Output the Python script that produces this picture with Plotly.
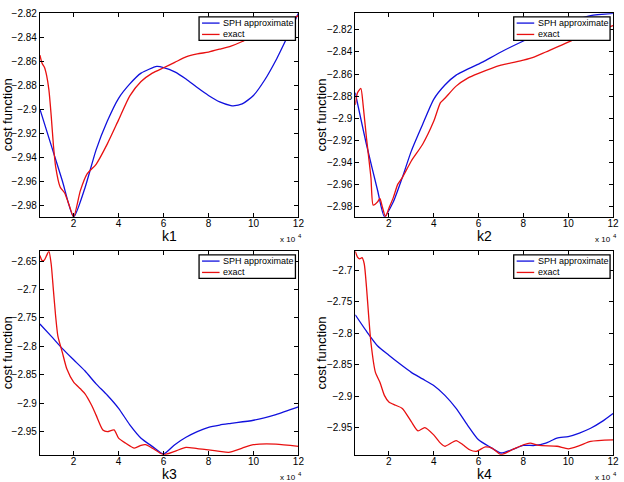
import plotly.graph_objects as go

# ---------------- data (x in units of 1e4) ----------------
k1_sph_x = [0.5, 1, 1.5, 2, 2.5, 3, 3.5, 4, 4.5, 5, 5.7, 6, 6.5, 7, 7.5, 8, 8.5, 9, 9.1, 9.5, 10, 10.5, 11, 11.5, 12]
k1_sph_y = [-2.900, -2.930, -2.960, -2.990, -2.966, -2.934, -2.910, -2.891, -2.879, -2.870, -2.8644, -2.8653,
            -2.8689, -2.8749, -2.882, -2.8886, -2.894, -2.8971, -2.8973, -2.8957, -2.8886, -2.8757, -2.8592, -2.840, -2.820]
k1_ex_x = [0.5, 0.6, 0.7, 0.8, 0.9, 1.0, 1.1, 1.2, 1.4, 1.6, 1.8, 2.0, 2.3, 2.6, 3, 3.5, 4, 4.5, 5, 5.5, 6, 6.5,
           7, 7.5, 8, 8.5, 9, 9.5, 10, 10.5, 11, 11.5, 12]
k1_ex_y = [-2.855, -2.862, -2.865, -2.872, -2.884, -2.905, -2.930, -2.948, -2.965, -2.970, -2.980, -2.990, -2.968,
           -2.954, -2.946, -2.929, -2.909, -2.889, -2.877, -2.870, -2.8655, -2.861, -2.8565, -2.854, -2.8524, -2.850,
           -2.8474, -2.8436, -2.8387, -2.834, -2.831, -2.827, -2.822]

k2_sph_x = [0.5, 1, 1.5, 1.8, 2.2, 2.6, 3, 3.5, 4, 4.5, 5, 6, 6.2, 7, 8, 9, 10, 11, 12]
k2_sph_y = [-2.877, -2.924, -2.966, -2.9895, -2.976, -2.954, -2.930, -2.906, -2.883, -2.870, -2.861, -2.851, -2.849,
            -2.840, -2.830, -2.821, -2.813, -2.807, -2.805]
k2_ex_x = [0.5, 0.6, 0.75, 0.85, 1.0, 1.2, 1.3, 1.5, 1.6, 1.7, 1.85, 2.0, 2.2, 2.4, 2.6, 3, 3.5, 4, 4.3, 4.5, 5, 5.5,
           6, 7, 8, 8.5, 9, 10, 11, 12]
k2_ex_y = [-2.888, -2.877, -2.873, -2.888, -2.918, -2.954, -2.979, -2.976, -2.973, -2.980, -2.9895, -2.982, -2.972,
           -2.960, -2.954, -2.939, -2.924, -2.903, -2.886, -2.882, -2.871, -2.864, -2.8595, -2.852, -2.8475, -2.8445,
           -2.840, -2.831, -2.8227, -2.816]

k3_sph_x = [0.5, 1, 1.5, 2, 2.5, 3, 3.5, 4, 4.5, 5, 5.5, 6, 6.5, 7, 7.5, 8, 8.5, 9, 10, 11, 12]
k3_sph_y = [-2.7606, -2.782, -2.804, -2.8237, -2.843, -2.866, -2.886, -2.909, -2.938, -2.9615, -2.976, -2.9893,
            -2.973, -2.960, -2.950, -2.9424, -2.9384, -2.9355, -2.930, -2.920, -2.9065]
k3_ex_x = [0.5, 0.6, 0.7, 0.8, 0.9, 1.0, 1.1, 1.2, 1.3, 1.5, 1.7, 2, 2.3, 2.5, 2.8, 3, 3.3, 3.5, 3.8, 4, 4.3, 4.7, 5,
           5.2, 5.5, 6, 6.5, 7, 7.5, 8, 8.5, 8.9, 9.5, 10, 11, 12]
k3_ex_y = [-2.640, -2.649, -2.648, -2.640, -2.6326, -2.6546, -2.701, -2.747, -2.782, -2.811, -2.840, -2.863, -2.8747,
           -2.883, -2.9036, -2.921, -2.947, -2.950, -2.947, -2.9615, -2.970, -2.979, -2.974, -2.973, -2.979, -2.9905,
           -2.9847, -2.9776, -2.980, -2.982, -2.9847, -2.9864, -2.979, -2.973, -2.972, -2.976]

k4_sph_x = [0.5, 1, 1.5, 2, 2.5, 3, 3.5, 4, 4.5, 5, 5.5, 6, 6.5, 7, 7.5, 8, 8.5, 9, 9.5, 10, 10.5, 11, 11.5, 12]
k4_sph_y = [-2.7705, -2.7966, -2.820, -2.8347, -2.8487, -2.8618, -2.8722, -2.8827, -2.8983, -2.919, -2.945, -2.9688,
            -2.980, -2.9897, -2.9845, -2.9777, -2.9777, -2.974, -2.966, -2.9636, -2.958, -2.9505, -2.940, -2.927]
k4_ex_x = [0.5, 0.6, 0.7, 0.8, 0.9, 1.0, 1.1, 1.2, 1.4, 1.6, 1.8, 2, 2.3, 2.6, 3, 3.3, 3.6, 4, 4.3, 4.5, 5, 5.3, 5.6,
           5.9, 6.3, 6.6, 7, 7.5, 8, 8.3, 8.7, 9.5, 10, 10.5, 11, 12]
k4_ex_y = [-2.6697, -2.679, -2.6817, -2.680, -2.6896, -2.726, -2.773, -2.8148, -2.8618, -2.8775, -2.8983, -2.9088,
           -2.914, -2.919, -2.940, -2.9547, -2.9495, -2.961, -2.974, -2.979, -2.970, -2.9766, -2.9845, -2.987, -2.980,
           -2.982, -2.9923, -2.9845, -2.9766, -2.974, -2.9777, -2.979, -2.983, -2.978, -2.9714, -2.969]

x_ticks = [2, 4, 6, 8, 10, 12]
x_ticktext = ["2", "4", "6", "8", "10", "12"]
y_ticks_top = [-2.98, -2.96, -2.94, -2.92, -2.90, -2.88, -2.86, -2.84, -2.82]
y_ticktext_top = ["\u22122.98", "\u22122.96", "\u22122.94", "\u22122.92", "\u22122.9", "\u22122.88", "\u22122.86",
                  "\u22122.84", "\u22122.82"]
y_ticks_k3 = [-2.95, -2.90, -2.85, -2.80, -2.75, -2.70, -2.65]
y_ticktext_k3 = ["\u22122.95", "\u22122.9", "\u22122.85", "\u22122.8", "\u22122.75", "\u22122.7", "\u22122.65"]
y_ticks_k4 = [-2.95, -2.90, -2.85, -2.80, -2.75, -2.70]
y_ticktext_k4 = ["\u22122.95", "\u22122.9", "\u22122.85", "\u22122.8", "\u22122.75", "\u22122.7"]

labels = ["k1", "k2", "k3", "k4"]
series_names = ["SPH approximate", "exact"]

# ---------------- figure ----------------
W, H = 624, 482
BLUE = "#1010dd"
RED = "#e81010"
COLORS = [BLUE, RED]
FONT = "Liberation Sans, Arial, sans-serif"

panels = [
    (k1_sph_x, k1_sph_y, k1_ex_x, k1_ex_y, [-2.9897, -2.82], y_ticks_top, y_ticktext_top),
    (k2_sph_x, k2_sph_y, k2_ex_x, k2_ex_y, [-2.9895, -2.8048], y_ticks_top, y_ticktext_top),
    (k3_sph_x, k3_sph_y, k3_ex_x, k3_ex_y, [-2.9905, -2.6326], y_ticks_k3, y_ticktext_k3),
    (k4_sph_x, k4_sph_y, k4_ex_x, k4_ex_y, [-2.9923, -2.6697], y_ticks_k4, y_ticktext_k4),
]

# pixel geometry of the axes boxes
x_px = [[40.3, 301.3], [358.7, 619.0]]
y_px = [[7.3, 213.3], [248.3, 454.3]]
x_dom = [[a / W, b / W] for a, b in x_px]
y_dom = [[1 - b / H, 1 - a / H] for a, b in y_px]


def px(x):
    return x / W


def py(y):
    return 1 - y / H


fig = go.Figure()
layout = dict(
    width=W, height=H, margin=dict(l=0, r=0, t=0, b=0),
    paper_bgcolor="white", plot_bgcolor="white",
    font=dict(family=FONT, color="black", size=10),
    showlegend=False,
    annotations=[], shapes=[],
)

for i, (sx, sy, ex, ey, yr, yt, ytt) in enumerate(panels):
    n = i + 1
    suf = "" if n == 1 else str(n)
    col, row = i % 2, i // 2
    fig.add_trace(go.Scatter(x=sx, y=sy, mode="lines", name=series_names[0],
                             line=dict(color=BLUE, width=1.3, shape="spline", smoothing=0.6),
                             xaxis="x" + suf, yaxis="y" + suf))
    fig.add_trace(go.Scatter(x=ex, y=ey, mode="lines", name=series_names[1],
                             line=dict(color=RED, width=1.3, shape="spline", smoothing=0.6),
                             xaxis="x" + suf, yaxis="y" + suf))
    axcommon = dict(showline=True, linecolor="black", linewidth=1, mirror="ticks", ticks="inside",
                    ticklen=4, tickwidth=1, tickcolor="black", showgrid=False, zeroline=False,
                    tickfont=dict(size=10, family=FONT, color="black"))
    layout["xaxis" + suf] = dict(domain=x_dom[col], range=[0.5, 12], anchor="y" + suf,
                                 tickvals=x_ticks, ticktext=x_ticktext, ticklabelstandoff=-3, **axcommon)
    layout["yaxis" + suf] = dict(domain=y_dom[row], range=yr, anchor="x" + suf,
                                 tickvals=yt, ticktext=ytt, **axcommon)

    # legend box (MATLAB style, top right inside the axes)
    R = x_px[col][1]
    T = y_px[row][0]
    layout["shapes"].append(dict(type="rect", xref="paper", yref="paper",
                                 x0=px(R - 100.3), x1=px(R - 3.0), y0=py(T + 27.6), y1=py(T + 3.7),
                                 fillcolor="white", line=dict(color="black", width=1.3)))
    for j, name in enumerate(series_names):
        yy = T + 10.0 + 11.5 * j
        layout["shapes"].append(dict(type="line", xref="paper", yref="paper",
                                     x0=px(R - 97.3), x1=px(R - 79.6), y0=py(yy), y1=py(yy),
                                     line=dict(color=COLORS[j], width=1.3)))
        layout["annotations"].append(dict(text=name, x=px(R - 78.0), y=py(yy), xref="paper", yref="paper",
                                          showarrow=False, xanchor="left", yanchor="middle",
                                          font=dict(size=9, family=FONT)))

    # axis titles and exponent label
    xc = (x_dom[col][0] + x_dom[col][1]) / 2
    layout["annotations"].append(dict(text=labels[i], x=xc, y=py(233 + 241 * row), xref="paper", yref="paper",
                                      showarrow=False, xanchor="center", yanchor="middle",
                                      font=dict(size=14, family=FONT)))
    layout["annotations"].append(dict(text="cost function", x=px(7.5 + 317.2 * col),
                                      y=(y_dom[row][0] + y_dom[row][1]) / 2, xref="paper", yref="paper",
                                      showarrow=False, textangle=-90, xanchor="center", yanchor="middle",
                                      font=dict(size=13, family=FONT)))
    layout["annotations"].append(dict(text="x 10", x=px(R - 1.5),
                                      y=py(236 + 241 * row), xref="paper", yref="paper",
                                      showarrow=False, xanchor="right", yanchor="middle", borderpad=0,
                                      font=dict(size=8, family=FONT)))
    layout["annotations"].append(dict(text="4", x=px(R - 1.2),
                                      y=py(232.5 + 241 * row), xref="paper", yref="paper",
                                      showarrow=False, xanchor="left", yanchor="middle", borderpad=0,
                                      font=dict(size=6, family=FONT)))

fig.update_layout(**layout)
fig.write_html("out.html")
